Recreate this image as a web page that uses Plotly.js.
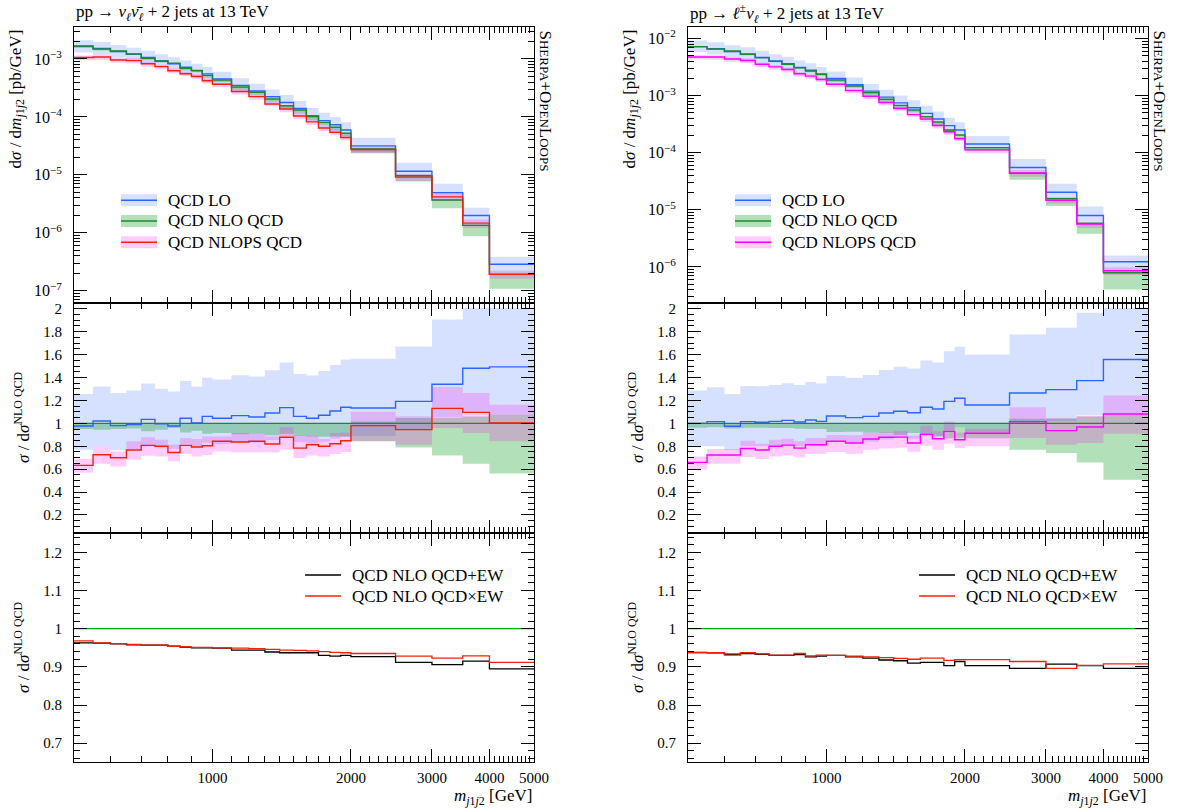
<!DOCTYPE html>
<html>
<head>
<meta charset="utf-8">
<script src="https://cdn.plot.ly/plotly-3.0.1.min.js"></script>
<style>html,body{margin:0;padding:0;background:#fff}#plot{width:1177px;height:810px}</style>
</head>
<body>
<div id="plot"></div>
<script>
// ---------------- DATA ----------------
const binEdges = [500,550,600,650,700,750,800,850,900,950,1000,1100,1200,1300,1400,1500,1600,1700,1800,1900,2000,2500,3000,3500,4000,5000];

// Left: pp -> nu nubar + 2 jets
const nloAbsL = [1.677e-3,1.489e-3,1.375e-3,1.220e-3,1.027e-3,9.24e-4,8.42e-4,6.90e-4,6.29e-4,5.22e-4,4.34e-4,3.28e-4,2.66e-4,2.04e-4,1.56e-4,1.32e-4,1.01e-4,8.06e-5,6.61e-5,5.21e-5,2.79e-5,9.67e-6,3.68e-6,1.34e-6,1.91e-7];
const loRatioL = [0.977,1.02,0.98,0.99,1.035,0.997,0.977,1.044,1.003,1.061,1.044,1.067,1.055,1.09,1.137,1.061,1.044,1.07,1.108,1.14,1.134,1.192,1.341,1.481,1.493];
const loUpL = [1.257,1.321,1.265,1.286,1.347,1.303,1.277,1.370,1.321,1.399,1.382,1.42,1.408,1.464,1.531,1.431,1.417,1.458,1.51,1.557,1.563,1.671,1.907,2.01,2.01];
const loDnL = [0.77,0.80,0.765,0.775,0.80,0.79,0.775,0.82,0.79,0.83,0.82,0.835,0.83,0.855,0.89,0.835,0.82,0.84,0.865,0.89,0.89,0.95,1.05,1.10,1.076];
const nloUpL = [1.003,1.003,1.003,1.003,1.003,1.003,1.003,1.003,1.003,1.003,1.003,1.003,1.003,1.003,1.003,1.003,1.003,1.003,1.003,1.003,1.015,1.047,1.047,1.06,1.076];
const nloDnL = [0.95,0.945,0.95,0.956,0.93,0.945,0.96,0.92,0.936,0.91,0.915,0.904,0.91,0.895,0.91,0.89,0.886,0.883,0.886,0.88,0.843,0.79,0.72,0.647,0.563];
const nlopsRatioL = [0.633,0.726,0.70,0.767,0.808,0.80,0.746,0.808,0.793,0.805,0.843,0.837,0.843,0.82,0.878,0.784,0.813,0.80,0.822,0.848,0.98,0.945,1.131,1.096,1.003];
const nlopsUpL = [0.688,0.80,0.755,0.843,0.878,0.857,0.813,0.872,0.863,0.886,0.886,0.915,0.91,0.886,0.965,0.892,0.892,0.863,0.915,0.921,1.102,1.061,1.318,1.265,1.163];
const nlopsDnL = [0.569,0.647,0.624,0.682,0.717,0.711,0.668,0.735,0.711,0.723,0.755,0.746,0.746,0.746,0.77,0.697,0.72,0.711,0.732,0.749,0.843,0.813,0.96,0.915,0.843];
const ewPlusL = [0.963,0.962,0.96,0.958,0.957,0.957,0.954,0.952,0.95,0.95,0.949,0.944,0.944,0.939,0.937,0.937,0.937,0.93,0.928,0.93,0.927,0.912,0.906,0.915,0.895];
const ewTimesL = [0.968,0.963,0.961,0.959,0.957,0.957,0.954,0.953,0.951,0.951,0.95,0.949,0.948,0.946,0.944,0.943,0.942,0.94,0.938,0.937,0.935,0.928,0.923,0.929,0.912];

// Right: pp -> l nu + 2 jets
const nloAbsR = [7.21e-3,6.56e-3,6.05e-3,5.29e-3,4.63e-3,3.99e-3,3.54e-3,3.09e-3,2.70e-3,2.36e-3,1.88e-3,1.48e-3,1.13e-3,8.63e-4,6.77e-4,5.61e-4,4.29e-4,3.46e-4,2.51e-4,2.05e-4,1.23e-4,4.36e-5,1.57e-5,5.81e-6,7.94e-7];
const loRatioR = [1.0,1.015,0.974,1.015,1.009,1.017,1.026,1.012,1.029,1.017,1.064,1.05,1.061,1.09,1.105,1.093,1.14,1.125,1.192,1.219,1.16,1.265,1.294,1.373,1.557];
const loUpR = [1.286,1.315,1.257,1.327,1.324,1.335,1.35,1.335,1.362,1.347,1.414,1.399,1.423,1.466,1.493,1.478,1.548,1.531,1.63,1.668,1.60,1.776,1.834,1.965,2.01];
const loDnR = [0.80,0.80,0.765,0.80,0.80,0.805,0.81,0.80,0.815,0.805,0.84,0.83,0.84,0.86,0.875,0.865,0.90,0.89,0.94,0.965,0.92,1.0,1.02,1.07,1.08];
const nloUpR = [1.003,1.003,1.003,1.003,1.003,1.003,1.003,1.003,1.003,1.003,1.003,1.003,1.003,1.003,1.003,1.003,1.003,1.003,1.003,1.003,1.003,1.04,1.04,1.06,1.08];
const nloDnR = [0.962,0.965,0.956,0.962,0.962,0.96,0.96,0.953,0.95,0.95,0.924,0.926,0.92,0.915,0.90,0.915,0.895,0.886,0.87,0.875,0.87,0.77,0.741,0.659,0.507];
const nlopsRatioR = [0.659,0.723,0.723,0.781,0.767,0.80,0.81,0.784,0.813,0.813,0.843,0.828,0.863,0.878,0.88,0.828,0.904,0.866,0.93,0.857,0.913,1.015,0.936,0.968,1.082];
const nlopsUpR = [0.711,0.776,0.776,0.848,0.822,0.857,0.866,0.843,0.872,0.872,0.898,0.895,0.921,0.921,0.936,0.892,0.98,0.93,1.015,0.921,0.95,1.14,1.047,1.067,1.242];
const nlopsDnR = [0.595,0.647,0.647,0.706,0.688,0.711,0.72,0.703,0.732,0.735,0.749,0.735,0.77,0.781,0.787,0.752,0.805,0.77,0.822,0.784,0.80,0.872,0.813,0.828,0.91];
const ewPlusR = [0.938,0.937,0.933,0.935,0.933,0.93,0.93,0.932,0.926,0.928,0.93,0.926,0.923,0.918,0.916,0.91,0.912,0.912,0.903,0.914,0.903,0.896,0.907,0.903,0.896];
const ewTimesR = [0.937,0.937,0.931,0.937,0.934,0.931,0.931,0.935,0.929,0.931,0.93,0.928,0.926,0.924,0.922,0.92,0.923,0.923,0.917,0.919,0.919,0.914,0.896,0.904,0.908];

// Ticks
const xTickVals = [1000,2000,3000,4000,5000];
const xTickText = ['1000','2000','3000','4000','5000'];
const xMinorVals = [600,700,800,900,1100,1200,1300,1400,1500,1600,1700,1800,1900,2100,2200,2300,2400,2500,2600,2700,2800,2900,3100,3200,3300,3400,3500,3600,3700,3800,3900,4100,4200,4300,4400,4500,4600,4700,4800,4900];
const yTopTickValsL = [1e-7,1e-6,1e-5,1e-4,1e-3];
const yTopTickTextL = ['10<sup>−7</sup>','10<sup>−6</sup>','10<sup>−5</sup>','10<sup>−4</sup>','10<sup>−3</sup>'];
const yTopTickValsR = [1e-6,1e-5,1e-4,1e-3,1e-2];
const yTopTickTextR = ['10<sup>−6</sup>','10<sup>−5</sup>','10<sup>−4</sup>','10<sup>−3</sup>','10<sup>−2</sup>'];
const yMidTickVals = [0.2,0.4,0.6,0.8,1,1.2,1.4,1.6,1.8,2];
const yMidTickText = ['0.2','0.4','0.6','0.8','1','1.2','1.4','1.6','1.8','2'];
const yBotTickVals = [0.7,0.8,0.9,1,1.1,1.2];
const yBotTickText = ['0.7','0.8','0.9','1','1.1','1.2'];

const titleL = 'pp → <i>ν</i><sub><i>ℓ</i></sub><i>ν̄</i><sub><i>ℓ</i></sub> + 2 jets at 13 TeV';
const titleR = 'pp → <i>ℓ</i><sup>±</sup><i>ν</i><sub><i>ℓ</i></sub> + 2 jets at 13 TeV';
const legTop = ['QCD LO','QCD NLO QCD','QCD NLOPS QCD'];
const legBot = ['QCD NLO QCD+EW','QCD NLO QCD×EW'];

// ---------------- STYLE ----------------
const FONT = 'Liberation Serif, Times New Roman, serif';
const C_LO = 'rgb(45,100,255)', C_LOB = 'rgba(51,102,255,0.2)';
const C_NLO = 'rgb(30,135,50)', C_NLOB = 'rgba(0,153,20,0.3)';
const C_RED = 'rgb(240,35,10)', C_MAG = 'rgb(255,0,255)', C_PSB = 'rgba(255,0,238,0.2)';
const C_GRN = 'rgb(0,170,0)';
const W = 1177, H = 810;
const px = v => v / W, py = v => 1 - v / H;

function stepY(v){ return v.concat([v[v.length-1]]); }
function mul(a,b){ return a.map((v,i)=>v*b[i]); }
function bandTraces(xa, ya, lo, hi, color){
  return [
    {x:binEdges, y:stepY(lo), xaxis:xa, yaxis:ya, type:'scatter', mode:'lines', line:{width:0, shape:'hv'}, hoverinfo:'skip', showlegend:false},
    {x:binEdges, y:stepY(hi), xaxis:xa, yaxis:ya, type:'scatter', mode:'lines', line:{width:0, shape:'hv'}, fill:'tonexty', fillcolor:color, hoverinfo:'skip', showlegend:false}
  ];
}
function lineTrace(xa, ya, y, color, w, name){
  return {x:binEdges, y:stepY(y), xaxis:xa, yaxis:ya, type:'scatter', mode:'lines', name:name, line:{color:color, width:w||1.4, shape:'hv'}, hoverinfo:'skip', showlegend:false};
}
function flatTrace(xa, ya, color, w){
  return {x:[binEdges[0], binEdges[binEdges.length-1]], y:[1,1], xaxis:xa, yaxis:ya, type:'scatter', mode:'lines', line:{color:color, width:w}, hoverinfo:'skip', showlegend:false};
}

function column(nloAbs, loR, loUp, loDn, nloUp, nloDn, psR, psUp, psDn, ewP, ewT, psColor, ax){
  const [xt,yt,xm,ym,xb,yb] = ax;
  let t = [];
  // top absolute
  t = t.concat(bandTraces(xt,yt, mul(nloAbs,loDn), mul(nloAbs,loUp), C_LOB));
  t = t.concat(bandTraces(xt,yt, mul(nloAbs,nloDn), mul(nloAbs,nloUp), C_NLOB));
  t = t.concat(bandTraces(xt,yt, mul(nloAbs,psDn), mul(nloAbs,psUp), C_PSB));
  t.push(lineTrace(xt,yt, mul(nloAbs,loR), C_LO, 1.4, legTop[0]));
  t.push(lineTrace(xt,yt, nloAbs, C_NLO, 1.4, legTop[1]));
  t.push(lineTrace(xt,yt, mul(nloAbs,psR), psColor, 1.4, legTop[2]));
  // middle ratio
  t = t.concat(bandTraces(xm,ym, loDn, loUp, C_LOB));
  t = t.concat(bandTraces(xm,ym, nloDn, nloUp, C_NLOB));
  t = t.concat(bandTraces(xm,ym, psDn, psUp, C_PSB));
  t.push(lineTrace(xm,ym, loR, C_LO, 1.4));
  t.push(flatTrace(xm,ym, C_NLO, 1.4));
  t.push(lineTrace(xm,ym, psR, psColor, 1.4));
  // bottom EW
  t.push(flatTrace(xb,yb, C_GRN, 1.3));
  t.push(lineTrace(xb,yb, ewP, 'black', 1.3, legBot[0]));
  t.push(lineTrace(xb,yb, ewT, C_RED, 1.3, legBot[1]));
  return t;
}

const data = [].concat(
  column(nloAbsL, loRatioL, loUpL, loDnL, nloUpL, nloDnL, nlopsRatioL, nlopsUpL, nlopsDnL, ewPlusL, ewTimesL, C_RED, ['x','y','x2','y2','x3','y3']),
  column(nloAbsR, loRatioR, loUpR, loDnR, nloUpR, nloDnR, nlopsRatioR, nlopsUpR, nlopsDnR, ewPlusR, ewTimesR, C_MAG, ['x4','y4','x5','y5','x6','y6'])
);

// ---------------- LAYOUT ----------------
const domL = [px(74), px(534)], domR = [px(688), px(1148)];
const domTop = [py(302.5), py(27.3)], domMid = [py(532.5), py(302.5)], domBot = [py(762.3), py(532.5)];
const tickF = {family:FONT, size:15, color:'black'};

function logMinor(e0, e1){ const v=[]; for(let e=e0;e<=e1;e++){ for(let k=2;k<=9;k++) v.push(k*Math.pow(10,e)); } return v; }

function xAxis(dom, anchor, labels){
  return {type:'log', domain:dom, anchor:anchor, range:[Math.log10(500), Math.log10(5000)],
    tickmode:'array', tickvals:xTickVals, ticktext:xTickText, showticklabels:labels,
    ticks:'inside', ticklen:13, tickwidth:1, tickcolor:'black', mirror:'allticks',
    showline:true, linecolor:'black', linewidth:1, showgrid:false, zeroline:false,
    tickfont:tickF, ticklabelstandoff:2,
    minor:{tickmode:'array', tickvals:xMinorVals, ticks:'inside', ticklen:6, tickwidth:1, tickcolor:'black', showgrid:false}};
}
function yAxis(dom, anchor, opt){
  return Object.assign({domain:dom, anchor:anchor, tickmode:'array',
    ticks:'inside', ticklen:13, tickwidth:1, tickcolor:'black', mirror:'allticks',
    showline:true, linecolor:'black', linewidth:1, showgrid:false, zeroline:false,
    tickfont:tickF, ticklabelstandoff:8}, opt);
}
const topL = yAxis(domTop,'x',{type:'log', range:[-7.204,-2.453], tickvals:yTopTickValsL, ticktext:yTopTickTextL,
  tickfont:{family:FONT, size:16, color:'black'},
  minor:{tickmode:'array', tickvals:logMinor(-8,-3), ticks:'inside', ticklen:6, tickwidth:1, tickcolor:'black', showgrid:false}});
const topR = yAxis(domTop,'x4',{type:'log', range:[-6.622,-1.803], tickvals:yTopTickValsR, ticktext:yTopTickTextR,
  tickfont:{family:FONT, size:16, color:'black'},
  minor:{tickmode:'array', tickvals:logMinor(-7,-2), ticks:'inside', ticklen:6, tickwidth:1, tickcolor:'black', showgrid:false}});
function midAx(anchor){ return yAxis(domMid, anchor, {range:[0.047,2.055], tickvals:yMidTickVals, ticktext:yMidTickText,
  minor:{tick0:0, dtick:0.05, ticks:'inside', ticklen:6, tickwidth:1, tickcolor:'black', showgrid:false}}); }
function botAx(anchor){ return yAxis(domBot, anchor, {range:[0.650,1.252], tickvals:yBotTickVals, ticktext:yBotTickText,
  minor:{tick0:0, dtick:0.02, ticks:'inside', ticklen:6, tickwidth:1, tickcolor:'black', showgrid:false}}); }

const ann = [];
const shapes = [];
function addText(x, y, text, o){ ann.push(Object.assign({xref:'paper', yref:'paper', x:px(x), y:py(y), text:text, showarrow:false,
  font:{family:FONT, size:17, color:'black'}, xanchor:'left', yanchor:'middle'}, o||{})); }

const sherpa = 'S<span style="font-size:13px">HERPA</span>+O<span style="font-size:13px">PEN</span>L<span style="font-size:13px">OOPS</span>';
const yTitleTop = 'd<i>σ</i> / d<i>m</i><sub><i>j</i>1<i>j</i>2</sub> [pb/GeV]';
const yTitleRatio = '<i>σ</i> / d<i>σ</i><sup>NLO QCD</sup>';
const xTitle = '<i>m</i><sub><i>j</i>1<i>j</i>2</sub> [GeV]';

[[0, titleL, C_RED], [614, titleR, C_MAG]].forEach(([dx, title, psColor]) => {
  addText(74+dx, 13, title, {font:{family:FONT, size:17, color:'black'}});
  addText(545+dx, 28, sherpa, {textangle:90, xanchor:'center', yanchor:'top', font:{family:FONT, size:17, color:'black'}});
  addText(17+dx, 28, yTitleTop, {textangle:-90, xanchor:'center', yanchor:'top', font:{family:FONT, size:17, color:'black'}});
  addText(22+dx, 418, yTitleRatio, {textangle:-90, xanchor:'center', yanchor:'middle', font:{family:FONT, size:17, color:'black'}});
  addText(22+dx, 648, yTitleRatio, {textangle:-90, xanchor:'center', yanchor:'middle', font:{family:FONT, size:17, color:'black'}});
  addText(534+dx, 797, xTitle, {xanchor:'right', font:{family:FONT, size:17, color:'black'}});
  // top legend
  const lx0 = 121+dx, lx1 = 157+dx, rows = [200.3, 221, 242.3];
  const bands = [C_LOB, C_NLOB, C_PSB], lines = [C_LO, C_NLO, psColor];
  rows.forEach((ry, i) => {
    shapes.push({type:'rect', xref:'paper', yref:'paper', x0:px(lx0), x1:px(lx1), y0:py(ry+6), y1:py(ry-6), fillcolor:bands[i], line:{width:0}});
    shapes.push({type:'line', xref:'paper', yref:'paper', x0:px(lx0), x1:px(lx1), y0:py(ry), y1:py(ry), line:{color:lines[i], width:1.5}});
    addText(166+dx, ry, legTop[i]);
  });
  // bottom legend
  const bx0 = 305+dx, bx1 = 341+dx, brows = [575, 596], bcol = ['black', C_RED];
  brows.forEach((ry, i) => {
    shapes.push({type:'line', xref:'paper', yref:'paper', x0:px(bx0), x1:px(bx1), y0:py(ry), y1:py(ry), line:{color:bcol[i], width:1.3}});
    addText(350+dx, ry, legBot[i]);
  });
});

const layout = {
  width:W, height:H, margin:{l:0,r:0,t:0,b:0}, paper_bgcolor:'white', plot_bgcolor:'rgba(0,0,0,0)',
  showlegend:false, font:{family:FONT, color:'black'},
  xaxis: xAxis(domL,'y',false), xaxis2: xAxis(domL,'y2',false), xaxis3: xAxis(domL,'y3',true),
  xaxis4: xAxis(domR,'y4',false), xaxis5: xAxis(domR,'y5',false), xaxis6: xAxis(domR,'y6',true),
  yaxis: topL, yaxis2: midAx('x2'), yaxis3: botAx('x3'),
  yaxis4: topR, yaxis5: midAx('x5'), yaxis6: botAx('x6'),
  annotations: ann, shapes: shapes
};

Plotly.newPlot('plot', data, layout, {staticPlot:true, displayModeBar:false});
</script>
</body>
</html>
